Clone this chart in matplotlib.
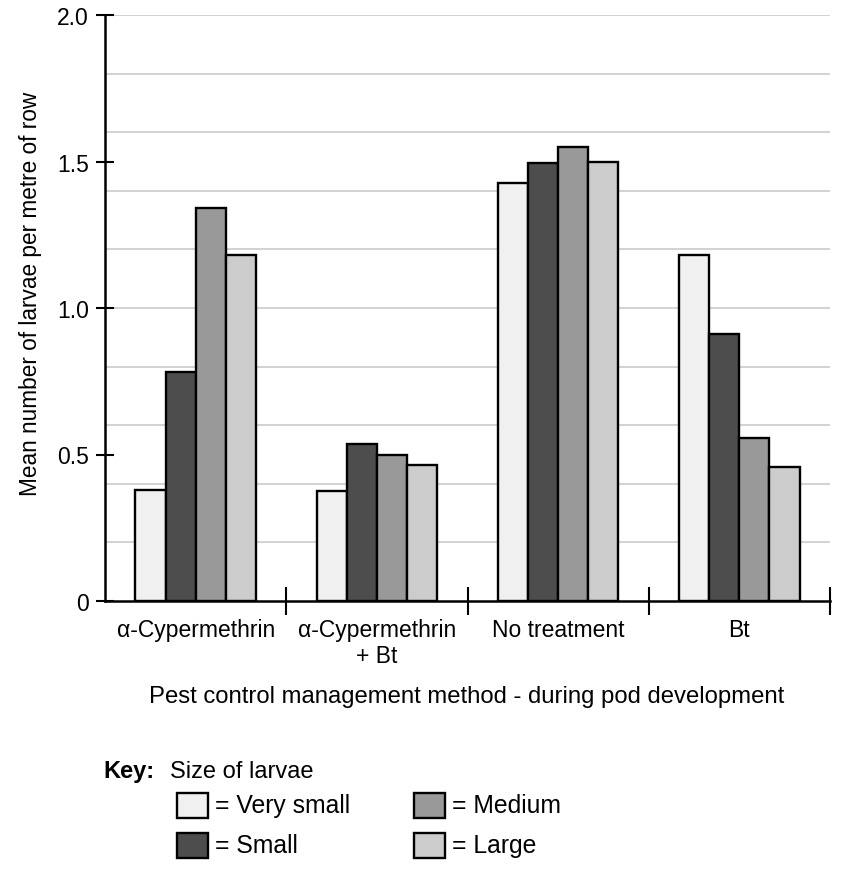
import matplotlib
matplotlib.use("Agg")
import matplotlib.pyplot as plt
import numpy as np
from matplotlib.patches import Rectangle

plt.rcParams['font.family'] = ['Liberation Sans', 'DejaVu Sans']

categories = ["α-Cypermethrin", "α-Cypermethrin\n+ Bt", "No treatment", "Bt"]
series_names = ["Very small", "Small", "Medium", "Large"]
very_small = [0.38, 0.375, 1.425, 1.18]
small = [0.78, 0.535, 1.495, 0.91]
medium = [1.34, 0.50, 1.55, 0.555]
large = [1.18, 0.465, 1.50, 0.457]
colors = ["#f0f0f0", "#4d4d4d", "#999999", "#cccccc"]
yticks = [0, 0.5, 1.0, 1.5, 2.0]
ytick_labels = ["0", "0.5", "1.0", "1.5", "2.0"]

W, H = 856, 870
fig = plt.figure(figsize=(W / 100, H / 100), dpi=100)
ax = fig.add_axes([105 / W, 1 - 602 / H, (830 - 105) / W, (602 - 16) / H])

x = np.arange(len(categories)) + 0.5
bw = 0.166
data = [very_small, small, medium, large]
for i, (vals, c) in enumerate(zip(data, colors)):
    ax.bar(x + (i - 1.5) * bw, vals, width=bw, color=c, edgecolor="black",
           linewidth=1.7, zorder=3)

ax.set_xlim(0, 4)
ax.set_ylim(0, 2.0)
for v in np.arange(0.2, 2.01, 0.2):
    ax.axhline(v, color="#c6c6c6", linewidth=1.1, zorder=1)

ax.set_yticks(yticks)
ax.set_yticklabels(ytick_labels, fontsize=16.5)
ax.tick_params(axis="y", direction="inout", length=13, width=1.5, pad=5)
ax.set_xticks(x)
ax.set_xticklabels(categories, fontsize=16.5, linespacing=1.18)
ax.tick_params(axis="x", which="major", length=0, pad=12)
ax.set_xticks([1, 2, 3, 4], minor=True)
ax.tick_params(axis="x", which="minor", direction="inout", length=20, width=1.5)

for s in ["top", "right"]:
    ax.spines[s].set_visible(False)
ax.spines["left"].set_linewidth(1.8)
ax.spines["bottom"].set_linewidth(1.8)

fig.text(31 / W, 1 - 294 / H, "Mean number of larvae per metre of row",
         fontsize=16.3, rotation=90, ha="center", va="center")
fig.text(467 / W, 1 - 697 / H,
         "Pest control management method - during pod development",
         fontsize=17.2, ha="center", va="center")

# key
fig.text(103 / W, 1 - 772 / H, "Key:", fontsize=17, fontweight="bold", va="center")
fig.text(170 / W, 1 - 772 / H, "Size of larvae", fontsize=17, va="center")
pos = [(177, 806), (177, 846), (414, 806), (414, 846)]
for (px, py), name, c in zip(pos, series_names, colors):
    fig.patches.append(Rectangle((px / W, 1 - (py + 12.5) / H), 31 / W, 25 / H,
                                 transform=fig.transFigure, facecolor=c,
                                 edgecolor="black", linewidth=1.7))
    fig.text((px + 38) / W, 1 - py / H, "= " + name, fontsize=17.8, va="center")

fig.savefig("out.png", dpi=100)
